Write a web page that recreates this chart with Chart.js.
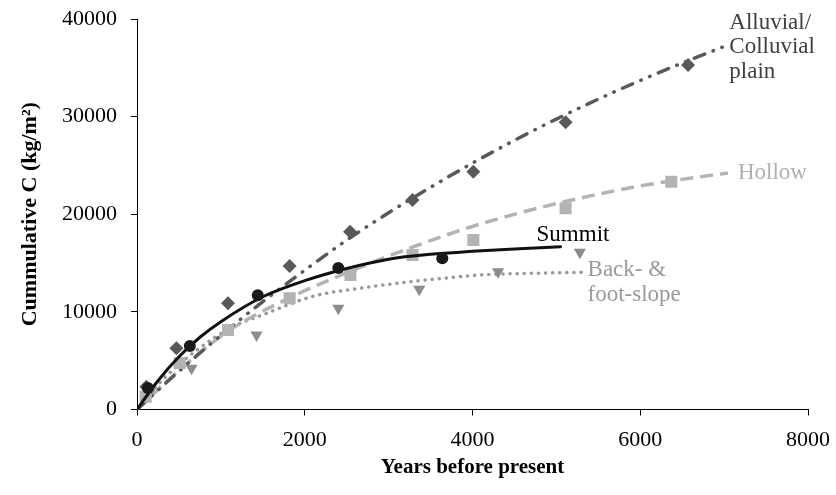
<!DOCTYPE html>
<html>
<head>
<meta charset="utf-8">
<script src="https://cdn.jsdelivr.net/npm/chart.js@4"></script>
<style>
  html, body { margin: 0; padding: 0; background: #fff; }
  #wrap { width: 836px; height: 495px; }
</style>
</head>
<body>
<div id="wrap"><canvas id="c" width="836" height="495"></canvas></div>
<script>
// measured samples (years BP, cumulative C kg/m2)
const summitYears = [130, 630, 1440, 2400, 3640];
const summitC = [2200, 6500, 11700, 14500, 15500];
const alluvialYears = [112, 470, 1085, 1820, 2540, 3285, 4010, 5110, 6570];
const alluvialC = [2340, 6270, 10880, 14700, 18220, 21460, 24360, 29430, 35300];
const hollowYears = [104, 510, 1085, 1820, 2545, 3285, 4010, 5110, 6370];
const hollowC = [1310, 4760, 8150, 11390, 13780, 15830, 17370, 20610, 23340];
const slopeYears = [150, 650, 1425, 2400, 3365, 4305, 5280];
const slopeC = [1800, 4220, 7630, 10370, 12310, 14120, 16100];

// fitted curves
const summitFitYears = [0, 250, 500, 750, 1000, 1500, 2000, 2500, 3000, 3500, 4000, 4500, 5050];
const summitFitC = [0, 2950, 5400, 7400, 9000, 11550, 13200, 14450, 15400, 15900, 16200, 16450, 16680];
const alluvialFitYears = [0, 500, 1000, 1500, 2000, 2500, 3000, 3500, 4000, 4500, 5000, 5500, 6000, 6500, 6990];
const alluvialFitC = [0, 3920, 7600, 11050, 14260, 17350, 20150, 22760, 25240, 27570, 29750, 31790, 33700, 35490, 37150];
const hollowFitYears = [0, 500, 1100, 1860, 2700, 3370, 4090, 5080, 6000, 7045];
const hollowFitC = [0, 4000, 8100, 11600, 14700, 16900, 19000, 21250, 22900, 24230];
const slopeFitYears = [0, 300, 700, 1150, 1500, 2100, 2600, 3100, 3600, 4090, 4700, 5300];
const slopeFitC = [0, 3000, 6000, 8500, 9700, 11600, 12350, 12930, 13400, 13780, 13950, 14050];

const xTicks = [0, 2000, 4000, 6000, 8000];
const yTicks = [0, 10000, 20000, 30000, 40000];

const pts = (xs, ys) => xs.map((x, i) => ({ x: x, y: ys[i] }));

const DARK = '#595959', LIGHT = '#b3b3b3', MID = '#8c8c8c';
const SERIF = '"Liberation Serif", "Times New Roman", serif';

function curve(xs, ys, color, dash, cap, width) {
  return {
    data: pts(xs, ys),
    showLine: true,
    borderColor: color,
    borderWidth: width,
    borderDash: dash,
    borderCapStyle: cap,
    pointRadius: 0,
    cubicInterpolationMode: 'monotone',
    fill: false
  };
}

function markers(xs, ys, color, style, radius, rotation) {
  return {
    data: pts(xs, ys),
    showLine: false,
    pointStyle: style,
    pointRadius: radius,
    pointRotation: rotation || 0,
    pointBackgroundColor: color,
    pointBorderColor: color,
    pointBorderWidth: 0
  };
}

// curve-end labels
const labelPlugin = {
  id: 'curveLabels',
  afterDatasetsDraw(chart) {
    const ctx = chart.ctx, xs = chart.scales.x, ys = chart.scales.y;
    const at = (yrs, c) => ({ x: xs.getPixelForValue(yrs[yrs.length - 1]), y: ys.getPixelForValue(c[c.length - 1]) });
    ctx.save();
    ctx.font = '23px ' + SERIF;
    ctx.textBaseline = 'middle';
    ctx.textAlign = 'left';

    let p = at(alluvialFitYears, alluvialFitC);
    ctx.fillStyle = '#404040';
    ctx.fillText('Alluvial/', p.x + 6, p.y - 24);
    ctx.fillText('Colluvial', p.x + 6, p.y);
    ctx.fillText('plain', p.x + 6, p.y + 25);

    p = at(hollowFitYears, hollowFitC);
    ctx.fillStyle = '#b0b0b0';
    ctx.fillText('Hollow', p.x + 10, p.y);

    p = at(summitFitYears, summitFitC);
    ctx.fillStyle = '#000';
    ctx.fillText('Summit', p.x - 24, p.y - 12);

    p = at(slopeFitYears, slopeFitC);
    ctx.fillStyle = '#999999';
    ctx.fillText('Back- &', p.x + 6, p.y - 2);
    ctx.fillText('foot-slope', p.x + 6, p.y + 23);
    ctx.restore();
  }
};

const ctx = document.getElementById('c').getContext('2d');
new Chart(ctx, {
  type: 'scatter',
  data: {
    datasets: [
      markers(summitYears, summitC, '#1a1a1a', 'circle', 6),
      curve(summitFitYears, summitFitC, '#111111', [], 'round', 3),
      markers(alluvialYears, alluvialC, DARK, 'rectRot', 7),
      markers(hollowYears, hollowC, LIGHT, 'rect', 8.5),
      markers(slopeYears, slopeC, MID, 'triangle', 7, 180),
      curve(alluvialFitYears, alluvialFitC, DARK, [11, 9, 0.5, 9, 0.5, 9], 'round', 3.5),
      curve(hollowFitYears, hollowFitC, LIGHT, [13, 7], 'butt', 3.5),
      curve(slopeFitYears, slopeFitC, '#999999', [0.1, 7], 'round', 3.5)
    ]
  },
  options: {
    responsive: false,
    animation: false,
    events: [],
    layout: { padding: { left: 0, right: 28, top: 19, bottom: 0 } },
    plugins: {
      legend: { display: false },
      tooltip: { enabled: false }
    },
    scales: {
      x: {
        type: 'linear',
        min: 0,
        max: 8000,
        afterFit(scale) {
          scale.height = 85.5;
          scale.paddingLeft = 0;
          scale.paddingRight = 0;
        },
        afterBuildTicks(scale) { scale.ticks = xTicks.map(v => ({ value: v })); },
        grid: { drawOnChartArea: false, drawTicks: true, tickLength: 6, color: '#000' },
        border: { color: '#000', width: 1 },
        ticks: {
          color: '#000',
          padding: 12,
          maxRotation: 0,
          callback: v => String(v),
          font: { family: SERIF, size: 22 }
        },
        title: {
          display: true,
          text: 'Years before present',
          color: '#000',
          padding: { top: 0, bottom: 15 },
          font: { family: SERIF, size: 21, weight: 'bold' }
        }
      },
      y: {
        type: 'linear',
        min: 0,
        max: 40000,
        afterFit(scale) {
          scale.width = 137;
          scale.paddingTop = 0;
          scale.paddingBottom = 0;
        },
        afterBuildTicks(scale) { scale.ticks = yTicks.map(v => ({ value: v })); },
        grid: { drawOnChartArea: false, drawTicks: true, tickLength: 6, color: '#000' },
        border: { color: '#000', width: 1 },
        ticks: {
          color: '#000',
          padding: 14,
          callback: v => String(v),
          font: { family: SERIF, size: 22 }
        },
        title: {
          display: true,
          text: 'Cummulative C (kg/m²)',
          color: '#000',
          padding: { top: 17, bottom: 0 },
          font: { family: SERIF, size: 22, weight: 'bold' }
        }
      }
    }
  },
  plugins: [labelPlugin]
});
</script>
</body>
</html>
